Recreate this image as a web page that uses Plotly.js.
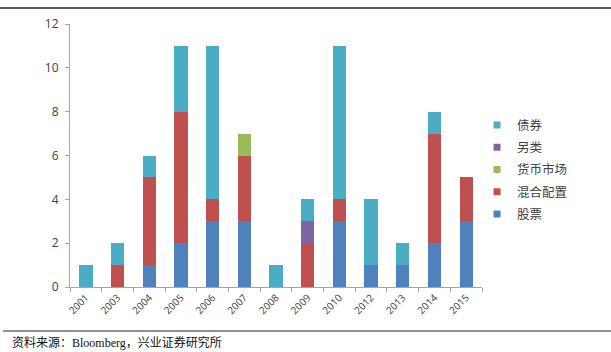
<!DOCTYPE html>
<html><head><meta charset="utf-8">
<script src="https://cdn.plot.ly/plotly-3.0.1.min.js"></script>
<style>body{margin:0;background:#fff}#c{width:611px;height:352px}</style>
</head><body><div id="c"></div>
<script>
const years = ['2001','2003','2004','2005','2006','2007','2008','2009','2010','2012','2013','2014','2015'];
const equity = [0,0,1,2,3,3,0,0,3,1,1,2,3];
const mixed  = [0,1,4,6,1,3,0,2,1,0,0,5,2];
const money  = [0,0,0,0,0,1,0,0,0,0,0,0,0];
const alt    = [0,0,0,0,0,0,0,1,0,0,0,0,0];
const bond   = [1,1,1,3,7,0,1,1,7,3,1,1,0];
const names = ['股票','混合配置','货币市场','另类','债券'];
const colors = ['#4F81BD','#C0504D','#9BBB59','#8064A2','#4BACC6'];
const series = [equity, mixed, money, alt, bond];
const traces = series.map((s,i)=>({type:'bar', x:years, y:s, name:names[i], showlegend:false,
  marker:{color:colors[i], line:{width:0}}, hoverinfo:'none'}));
names.forEach((n,i)=>traces.push({type:'scatter', mode:'markers', x:[null], y:[null], name:n,
  legendgroup:'g'+i, legendrank:10-i, marker:{symbol:'square', size:7, color:colors[i]}, hoverinfo:'none'}));
const layout = {
  width:611, height:352, barmode:'stack', bargap:0.58,
  margin:{l:70, r:129, t:24, b:65},
  paper_bgcolor:'#fff', plot_bgcolor:'#fff',
  font:{family:'"Noto Sans CJK SC", "Open Sans", sans-serif', color:'#404040', size:11},
  xaxis:{type:'category', showline:true, linecolor:'#A6A6A6', linewidth:1, ticks:'outside', tickson:'boundaries',
    ticklen:4, tickcolor:'#A6A6A6', tickangle:-45, tickfont:{size:10, family:'"Open Sans", sans-serif', color:'#404040'}, showgrid:false, zeroline:false},
  yaxis:{range:[0,12], dtick:2, showline:true, linecolor:'#A6A6A6', linewidth:1, ticks:'outside', ticklen:4, tickcolor:'#A6A6A6',
    ticklabelstandoff:4, showgrid:false, zeroline:false, tickfont:{size:12, family:'"Open Sans", sans-serif', color:'#404040'}},
  legend:{x:0.988, y:0.672, xanchor:'left', yanchor:'top', traceorder:'grouped', tracegroupgap:3, itemwidth:30,
    font:{size:12.5, color:'#404040'}, bgcolor:'rgba(0,0,0,0)'},
  showlegend:true,
  shapes:[
    {type:'line', xref:'paper', yref:'paper', x0:-70/412, x1:541/412, y0:(352-65-8)/263, y1:(352-65-8)/263, line:{color:'#222', width:1.5}},
    {type:'line', xref:'paper', yref:'paper', x0:-67/412, x1:541/412, y0:(287-331)/263, y1:(287-331)/263, line:{color:'#222', width:1}}
  ],
  annotations:[
    {xref:'paper', yref:'paper', x:-60/412, y:(287-341)/263, xanchor:'left', yanchor:'middle', showarrow:false,
     text:'资料来源：<span style="font-family:Liberation Serif">Bloomberg</span>，兴业证券研究所', font:{size:12, color:'#111', family:'"Noto Sans CJK SC", serif'}}
  ]
};
Plotly.newPlot('c', traces, layout, {staticPlot:true});
</script></body></html>
